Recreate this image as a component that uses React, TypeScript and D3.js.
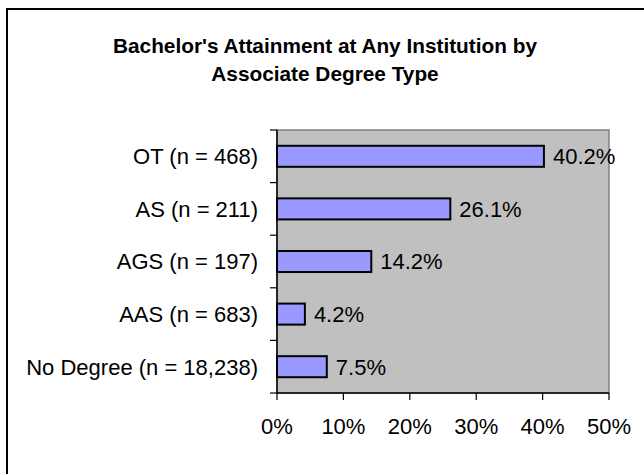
import React from "react";
import * as d3 from "d3";

const categories = [
  "OT (n = 468)",
  "AS (n = 211)",
  "AGS (n = 197)",
  "AAS (n = 683)",
  "No Degree (n = 18,238)",
];
const values = [40.2, 26.1, 14.2, 4.2, 7.5];
const valueLabels = ["40.2%", "26.1%", "14.2%", "4.2%", "7.5%"];
const xTicks = [0, 10, 20, 30, 40, 50];
const titleLines = [
  "Bachelor's Attainment at Any Institution by",
  "Associate Degree Type",
];

const W = 644;
const H = 474;
const plot = { left: 277, right: 609, top: 130, bottom: 393 };
const FONT = "'Liberation Sans', Arial, sans-serif";

export default function App() {
  const x = d3.scaleLinear().domain([0, 50]).range([plot.left, plot.right]);
  const y = d3
    .scaleBand<string>()
    .domain(categories)
    .range([plot.top, plot.bottom])
    .paddingInner(0.6)
    .paddingOuter(0.3);
  const step = y.step();
  const boundaries = d3.range(categories.length + 1).map((i) => plot.top + i * step);

  return (
    <svg
      width={W}
      height={H}
      style={{ position: "absolute", left: 0, top: 0, display: "block", background: "#fff" }}
      fontFamily={FONT}
    >
      <rect x={7} y={9} width={W + 20} height={H + 20} fill="#fff" stroke="#000" strokeWidth={2} />
      {titleLines.map((t, i) => (
        <text
          key={i}
          x={325}
          y={53 + i * 28}
          textAnchor="middle"
          fontWeight="bold"
          fontSize={20.8}
          fill="#000"
        >
          {t}
        </text>
      ))}
      <rect
        x={plot.left}
        y={plot.top}
        width={plot.right - plot.left}
        height={plot.bottom - plot.top}
        fill="#C0C0C0"
        stroke="#808080"
        strokeWidth={1.5}
      />
      {categories.map((c, i) => {
        const by = y(c)!;
        const bw = y.bandwidth();
        return (
          <g key={c}>
            <rect
              x={x(0)}
              y={by}
              width={x(values[i]) - x(0)}
              height={bw}
              fill="#9999FF"
              stroke="#000"
              strokeWidth={2}
            />
            <text
              x={x(values[i]) + 9}
              y={by + bw / 2}
              dy="0.36em"
              fontSize={22}
              fill="#000"
            >
              {valueLabels[i]}
            </text>
            <text
              x={258}
              y={by + bw / 2}
              dy="0.36em"
              fontSize={22}
              textAnchor="end"
              fill="#000"
            >
              {c}
            </text>
          </g>
        );
      })}
      {/* y axis */}
      <line x1={plot.left} x2={plot.left} y1={plot.top} y2={plot.bottom} stroke="#000" strokeWidth={1.5} />
      {boundaries.map((b, i) => (
        <line key={i} x1={plot.left - 7} x2={plot.left} y1={b} y2={b} stroke="#000" strokeWidth={1.2} />
      ))}
      {/* x axis */}
      <line x1={plot.left} x2={plot.right} y1={plot.bottom} y2={plot.bottom} stroke="#000" strokeWidth={1.5} />
      {xTicks.map((t) => (
        <g key={t}>
          <line x1={x(t)} x2={x(t)} y1={plot.bottom} y2={plot.bottom + 7} stroke="#000" strokeWidth={1.2} />
          <text x={x(t)} y={434} textAnchor="middle" fontSize={22} fill="#000">
            {t}%
          </text>
        </g>
      ))}
    </svg>
  );
}
